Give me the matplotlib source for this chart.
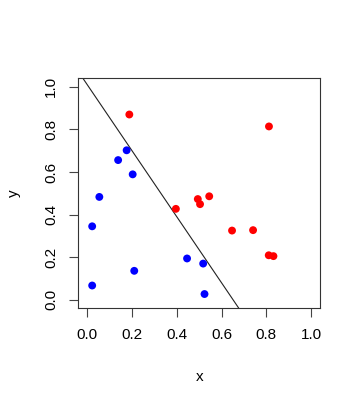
import matplotlib

matplotlib.use("Agg")
import matplotlib.pyplot as plt
import numpy as np

# data
red_x = [0.188, 0.812, 0.396, 0.494, 0.504, 0.545, 0.647, 0.741, 0.811, 0.832]
red_y = [0.870, 0.814, 0.427, 0.473, 0.449, 0.486, 0.325, 0.327, 0.209, 0.205]
blue_x = [0.176, 0.138, 0.203, 0.054, 0.022, 0.210, 0.022, 0.446, 0.518, 0.524]
blue_y = [0.702, 0.656, 0.589, 0.483, 0.345, 0.136, 0.067, 0.194, 0.170, 0.027]
line_a = 1.01    # intercept
line_b = -1.55   # slope
ticks = [0.0, 0.2, 0.4, 0.6, 0.8, 1.0]

plt.rcParams["font.family"] = ["Liberation Sans", "DejaVu Sans"]

fig = plt.figure(figsize=(3.61, 4.07), dpi=100)
ax = fig.add_axes([0.2169, 0.2425, 0.6695, 0.5651])

ax.scatter(red_x, red_y, s=32, color="#ff0000", edgecolors="none", zorder=3)
ax.scatter(blue_x, blue_y, s=32, color="#0000ff", edgecolors="none", zorder=3)
ax.axline((0, line_a), slope=line_b, color="#222222", lw=0.8, zorder=2)

ax.set_xlim(-0.04, 1.04)
ax.set_ylim(-0.04, 1.04)
ax.set_xticks(ticks)
ax.set_yticks(ticks)
ax.set_xticklabels([f"{t:.1f}" for t in ticks], fontsize=11)
ax.set_yticklabels([f"{t:.1f}" for t in ticks], fontsize=11, rotation=90, va="center")
ax.tick_params(direction="out", length=6.5, width=0.8, color="#444444", pad=8)
for s in ax.spines.values():
    s.set_linewidth(0.8)
    s.set_color("#333333")

ax.set_xlabel("x", fontsize=11)
ax.set_ylabel("y", fontsize=11)
ax.xaxis.set_label_coords(0.5, -0.30)
ax.yaxis.set_label_coords(-0.265, 0.5)
ax.xaxis.label.set_va("center")
ax.yaxis.label.set_va("center")

fig.savefig("out.png", dpi=100)
